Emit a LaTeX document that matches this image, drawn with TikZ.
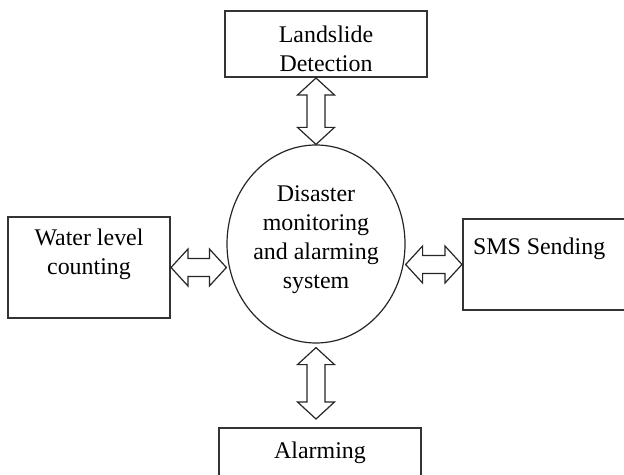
\documentclass[tikz,border=0pt]{standalone}
\usepackage{fontspec}
\setmainfont{Liberation Serif}
\usepackage{tikz}
\usetikzlibrary{positioning,calc,shapes.geometric}

% hollow two-headed arrow between two points
\newcommand{\arrhead}{8.5bp}
\newcommand{\arrwide}{9.25bp}
\newcommand{\arrshaft}{4.5bp}
\newcommand{\biarrow}[2]{%
    \draw [hollow] (#1)
        -- ($(#1)!\arrhead!(#2)!\arrwide!90:(#2)$)
        -- ($(#1)!\arrhead!(#2)!\arrshaft!90:(#2)$)
        -- ($(#2)!\arrhead!(#1)!\arrshaft!-90:(#1)$)
        -- ($(#2)!\arrhead!(#1)!\arrwide!-90:(#1)$)
        -- (#2)
        -- ($(#2)!\arrhead!(#1)!\arrwide!90:(#1)$)
        -- ($(#2)!\arrhead!(#1)!\arrshaft!90:(#1)$)
        -- ($(#1)!\arrhead!(#2)!\arrshaft!-90:(#2)$)
        -- ($(#1)!\arrhead!(#2)!\arrwide!-90:(#2)$)
        -- cycle;}

\begin{document}
\begin{tikzpicture}[
    x=0.5bp, y=-0.5bp,
    font=\fontsize{12}{14.5}\selectfont,
    box/.style={rectangle, draw=black!80, line width=1bp, fill=white, align=center},
    hub/.style={ellipse, draw=black!85, line width=0.6bp, fill=white, align=center, inner sep=0pt, minimum width=89bp, minimum height=99bp},
    hollow/.style={draw=black!85, line width=0.6bp, fill=white, line join=miter}
]
    \useasboundingbox (0,0) rectangle (624,475);
    \clip (0,0) rectangle (624,475);

    % Central system
    \node (sys) at (316,244) [hub, text depth=7bp] {Disaster\\monitoring\\and alarming\\system};

    % Surrounding blocks
    \node (top) at (326,44) [box, minimum width=101bp, minimum height=33bp, inner ysep=0pt, text height=28bp] {Landslide\\Detection};
    \node (water) at (89,267.5) [box, minimum width=81bp, minimum height=50.5bp, text depth=16bp] {Water level\\counting};
    \node (sms) at (545.5,264.5) [box, minimum width=82.5bp, minimum height=45.5bp, inner xsep=5bp, text width=72.5bp, align=flush left, text depth=18bp] {SMS Sending};
    \node (alarm) at (320,453) [box, minimum width=101bp, minimum height=25bp] {Alarming};

    % Arrow end points
    \coordinate (upend) at (top.south -| sys.north);
    \coordinate (lowstart) at ($(sys.south)+(0,4)$);
    \coordinate (lowend) at ($(sys.south |- alarm.north)+(0,-8)$);

    % Two-way links
    \biarrow{upend}{sys.north}
    \biarrow{lowstart}{lowend}
    \biarrow{water.east}{sys.west |- water.east}
    \biarrow{sys.east |- sms.west}{sms.west}

\end{tikzpicture}
\end{document}
